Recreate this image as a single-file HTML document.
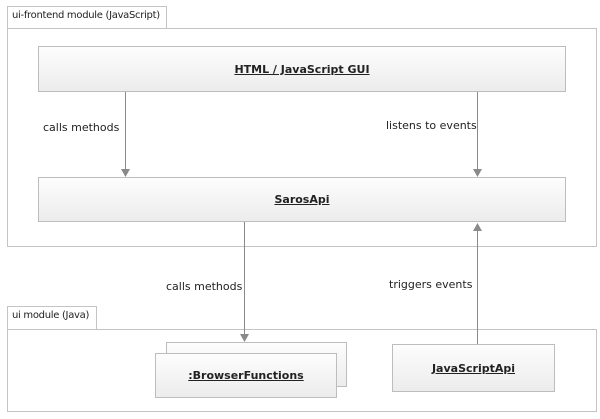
<!DOCTYPE html>
<html><head><style>
body{margin:0;width:600px;height:419px;background:#fff;position:relative;font-family:"DejaVu Sans","Liberation Sans",sans-serif;overflow:hidden}
.a{position:absolute;box-sizing:border-box}
.fr{border:1px solid #c4c4c4;background:#fff}
.tab{border:1px solid #c4c4c4;background:#fff;font-size:10px;letter-spacing:-0.3px;color:#222;padding:3px 0 0 4px;white-space:nowrap;overflow:hidden}
.box{border:1px solid #bdbdbd;background:linear-gradient(#fdfdfd,#ececec);display:flex;align-items:center;justify-content:center;font-weight:bold;font-size:11px;color:#222;text-decoration:underline}
.lbl{position:absolute;font-size:11px;color:#222;white-space:nowrap}
</style></head><body>
<div class="a fr" style="left:7px;top:28px;width:590px;height:219px"></div>
<div class="a tab" style="left:7px;top:6px;width:160px;height:23px">ui-frontend module (JavaScript)</div>
<div class="a box" style="left:38px;top:46px;width:528px;height:46px">HTML / JavaScript GUI</div>
<div class="a box" style="left:38px;top:177px;width:528px;height:45px">SarosApi</div>
<div class="a fr" style="left:7px;top:329px;width:590px;height:83px"></div>
<div class="a tab" style="left:7px;top:306px;width:90px;height:24px">ui module (Java)</div>
<div class="a box" style="left:166px;top:342px;width:181px;height:45px"></div>
<div class="a box" style="left:155px;top:353px;width:182px;height:45px">:BrowserFunctions</div>
<div class="a box" style="left:392px;top:344px;width:163px;height:48px">JavaScriptApi</div>
<div class="lbl" style="left:43px;top:121px">calls methods</div>
<div class="lbl" style="left:386px;top:119px">listens to events</div>
<div class="lbl" style="left:166px;top:280px">calls methods</div>
<div class="lbl" style="left:389px;top:278px">triggers events</div>
<svg class="a" style="left:0;top:0" width="600" height="419">
<g stroke="#8a8a8a" stroke-width="1" fill="none">
<line x1="125.5" y1="92" x2="125.5" y2="170"/>
<line x1="477.5" y1="92" x2="477.5" y2="170"/>
<line x1="244.5" y1="222" x2="244.5" y2="334"/>
<line x1="477.5" y1="230" x2="477.5" y2="344"/>
</g>
<g fill="#8a8a8a">
<polygon points="121,169 130,169 125.5,177"/>
<polygon points="473,169 482,169 477.5,177"/>
<polygon points="240,334 249,334 244.5,342"/>
<polygon points="473,231 482,231 477.5,223"/>
</g>
</svg>
</body></html>
